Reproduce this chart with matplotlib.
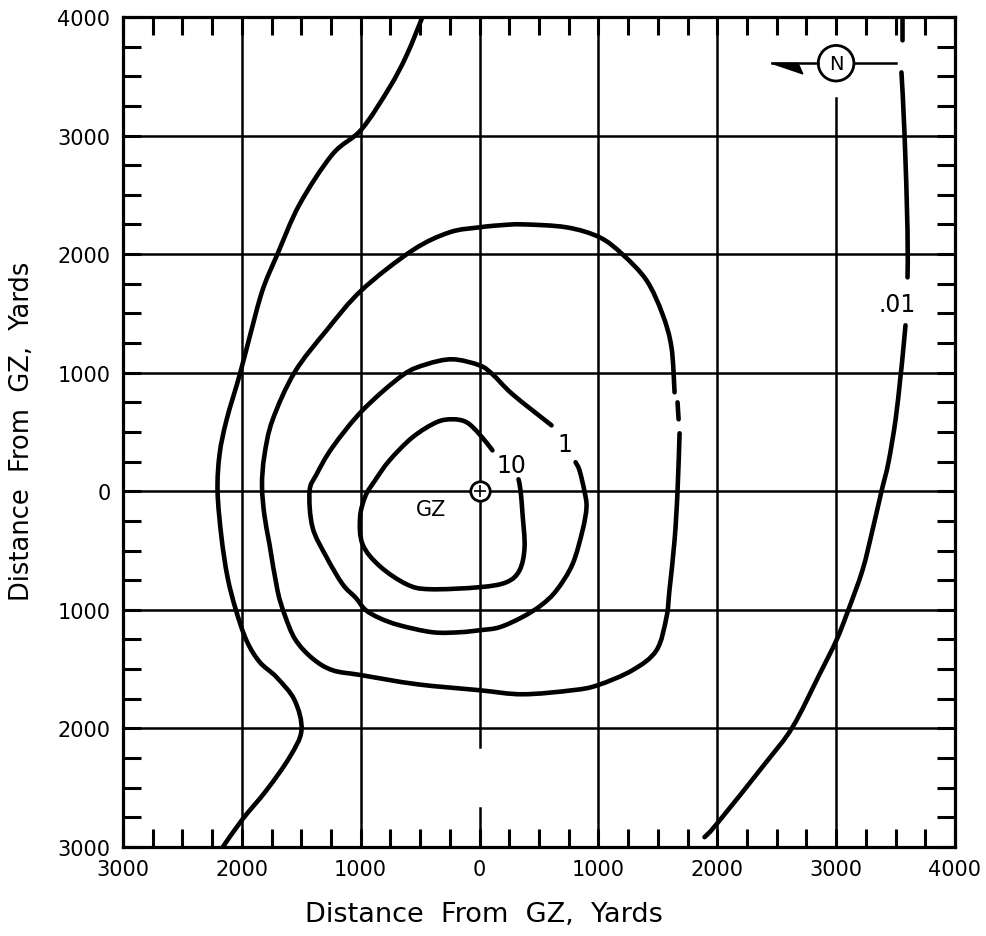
import numpy as np
import matplotlib.pyplot as plt
from matplotlib.patches import Circle, Polygon, PathPatch
from matplotlib.path import Path
from matplotlib.ticker import MultipleLocator, FixedLocator

# contour lines (yards from GZ)
c10_x = [109, 0, -109, -227, -362, -564, -757, -880, -960, -1005, -984, -841, -614, -421, 0, 227, 337, 379, 362, 345, 328]
c10_y = [345, 481, 582, 607, 582, 455, 261, 90, -40, -220, -447, -630, -784, -826, -809, -767, -666, -472, -194, 8, 101]

c1_x = [606, 278, 109, 0, -227, -446, -648, -984, -1237, -1371, -1430, -1405, -1287, -1152, -1040, -960, -840,
        -673, -395, -168, 0, 168, 362, 520, 648, 782, 867, 900, 883, 841, 808]
c1_y = [556, 818, 987, 1062, 1113, 1071, 978, 683, 371, 143, 0, -304, -556, -784, -900, -1000, -1070,
        -1130, -1189, -1189, -1172, -1147, -1060, -960, -835, -616, -329, -135, 0, 177, 245]

c01_x = [1641, 1615, 1540, 1405, 1203, 1010, 732, 362, 168, 0, -252, -564, -993, -1287, -1556, -1742, -1810,
         -1830, -1810, -1767, -1700, -1640, -1550, -1405, -1237, -993, -530, 0, 362, 782, 993, 1287, 1489, 1573,
         1598, 1641, 1666, 1683]
c01_y = [835, 1214, 1492, 1779, 1998, 2142, 2226, 2251, 2243, 2226, 2184, 2032, 1695, 1357, 1003, 599, 300,
         50, -200, -447, -835, -1040, -1250, -1410, -1509, -1551, -1627, -1678, -1712, -1678, -1636, -1509, -1341, -1062,
         -835, -413, 0, 489]
c01_dash_x = [1666, 1675]
c01_dash_y = [750, 607]

c001_left_x = [-480, -614, -757, -993, -1237, -1514, -1700, -1826, -1935, -2019, -2129, -2187, -2204, -2171,
               -2120, -2050, -1960, -1850, -1708, -1556, -1498, -1598, -1792, -1994, -2160]
c001_left_y = [4000, 3676, 3406, 3052, 2842, 2420, 2000, 1695, 1298, 978, 599, 312, 0, -388,
               -725, -1000, -1260, -1440, -1568, -1762, -2015, -2243, -2521, -2766, -3000]

c001_top_x = [3559, 3559]
c001_top_y = [3997, 3803]
c001_up_x = [3550, 3576, 3601, 3601]
c001_up_y = [3533, 3010, 2200, 1804]
c001_low_x = [3584, 3559, 3540, 3500, 3440, 3382, 3306, 3222, 3096, 3003, 2861, 2633, 2400, 1994, 1893]
c001_low_y = [1400, 1130, 950, 600, 240, 0, -329, -666, -1020, -1256, -1543, -1990, -2300, -2808, -2917]

ticks = [-3000, -2000, -1000, 0, 1000, 2000, 3000, 4000]
tick_labels = ['3000', '2000', '1000', '0', '1000', '2000', '3000', '4000']


def smooth(xs, ys):
    # catmull-rom through the read points, drawn as bezier curves
    p = np.column_stack([xs, ys]).astype(float)
    verts = [p[0]]
    codes = [Path.MOVETO]
    n = len(p)
    for i in range(n - 1):
        p0 = p[i - 1] if i > 0 else p[i]
        p3 = p[i + 2] if i + 2 < n else p[i + 1]
        verts += [p[i] + (p[i + 1] - p0) / 6, p[i + 1] - (p3 - p[i]) / 6, p[i + 1]]
        codes += [Path.CURVE4] * 3
    return Path(verts, codes)


fig = plt.figure(figsize=(9.86, 9.37), dpi=100)
ax = fig.add_axes([0.1247, 0.0950, 0.8438, 0.8858])
ax.set_xlim(-3000, 4000)
ax.set_ylim(-3000, 4000)

# grid, drawn by hand because some lines are broken
glw = 1.8
for g in [-2000, -1000, 1000, 2000]:
    ax.plot([g, g], [-3000, 4000], color='black', lw=glw, zorder=1)
    ax.plot([-3000, 4000], [g, g], color='black', lw=glw, zorder=1)
ax.plot([-3000, 4000], [0, 0], color='black', lw=glw, zorder=1)
ax.plot([-3000, 4000], [3000, 3000], color='black', lw=glw, zorder=1)
ax.plot([0, 0], [-2160, 4000], color='black', lw=glw, zorder=1)
ax.plot([0, 0], [-3000, -2670], color='black', lw=glw, zorder=1)
ax.plot([3000, 3000], [-3000, 3320], color='black', lw=glw, zorder=1)

clw = 3.3
lines = [(c10_x, c10_y), (c1_x, c1_y), (c01_x, c01_y), (c01_dash_x, c01_dash_y),
         (c001_left_x, c001_left_y), (c001_top_x, c001_top_y), (c001_up_x, c001_up_y),
         (c001_low_x, c001_low_y)]
for xs, ys in lines:
    ax.add_patch(PathPatch(smooth(xs, ys), fill=False, ec='black', lw=clw,
                           capstyle='round', joinstyle='round', zorder=3))

# contour labels
lab = dict(fontsize=17, ha='center', va='center', zorder=4)
ax.text(269, 219, '10', **lab)
ax.text(715, 396, '1', **lab)
ax.text(3517, 1577, '.01', **lab)
ax.text(-404, -152, 'GZ', fontsize=15, ha='center', va='center', zorder=4)

# ground zero marker
ax.plot(0, 0, marker='o', ms=14, mfc='white', mec='black', mew=2, zorder=5)
ax.plot(0, 0, marker='+', ms=8, mec='black', mew=1.2, zorder=6)

# north arrow
ax.add_patch(Circle((3000, 3610), 150, fill=False, ec='black', lw=2, zorder=5))
ax.text(3000, 3610, 'N', fontsize=14, ha='center', va='center', zorder=6)
ax.plot([3150, 3500], [3610, 3610], color='black', lw=1.8, zorder=5)
ax.plot([2457, 2850], [3610, 3610], color='black', lw=1.8, zorder=5)
ax.add_patch(Polygon([(2457, 3610), (2720, 3520), (2680, 3610)], closed=True, color='black', zorder=5))

# axes frame and ticks
for s in ax.spines.values():
    s.set_linewidth(2.3)
ax.xaxis.set_major_locator(FixedLocator(ticks))
ax.yaxis.set_major_locator(FixedLocator(ticks))
ax.set_xticklabels(tick_labels)
ax.set_yticklabels(tick_labels)
ax.xaxis.set_minor_locator(MultipleLocator(250))
ax.yaxis.set_minor_locator(MultipleLocator(250))
ax.tick_params(which='both', direction='in', top=True, right=True, width=2.2, length=13,
               labelsize=15, pad=9)

ax.set_xlabel('Distance  From  GZ,  Yards', fontsize=19.5, va='center')
ax.xaxis.set_label_coords(0.434, -0.081)
ax.set_ylabel('Distance  From  GZ,  Yards', fontsize=18.5, va='center')
ax.yaxis.set_label_coords(-0.121, 0.502)

fig.savefig('out.png', dpi=100)
